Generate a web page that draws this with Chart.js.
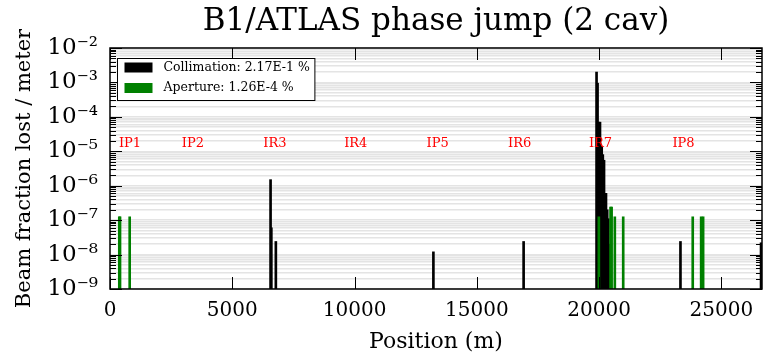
<!DOCTYPE html>
<html>
<head>
<meta charset="utf-8">
<script src="https://cdn.jsdelivr.net/npm/chart.js@4.4.1/dist/chart.umd.min.js"></script>
<style>
  html, body { margin: 0; padding: 0; background: #fff; }
  #wrap { width: 765px; height: 355px; }
</style>
</head>
<body>
<div id="wrap"><canvas id="chart"></canvas></div>
<script>
// loss positions (m) and values (fraction / m)
const collPos = [6565, 6597, 6781, 13223, 16912,
  19894, 19935, 19965, 20000, 20035, 20075, 20105, 20150, 20200, 20245, 20280, 20330, 20375, 20420,
  23325, 26620];
const collVal = [1.5e-6, 6e-8, 2.4e-8, 1.2e-8, 2.4e-8,
  2.0e-3, 9.5e-4, 7e-5, 7e-5, 7e-5, 1.4e-5, 1.3e-5, 8e-6, 5.5e-6, 6e-7, 6e-7, 2e-7, 1.1e-7, 2e-8,
  2.4e-8, 2.2e-8];
const apPos = [380, 410, 805, 19988, 20466, 20510, 20641, 20984, 23827, 24171, 24252];
const apVal = [1.25e-7, 1.25e-7, 1.25e-7, 1.25e-7, 2.4e-7, 2.4e-7, 1.25e-7, 1.25e-7, 1.25e-7, 1.25e-7, 1.25e-7];

const xTicks = [0, 5000, 10000, 15000, 20000, 25000];
const yExponents = [-9, -8, -7, -6, -5, -4, -3, -2];
const irNames = ['IP1', 'IP2', 'IR3', 'IR4', 'IP5', 'IR6', 'IR7', 'IP8'];
const irPos = [817, 3391, 6740, 10049, 13399, 16748, 20057, 23448];
const irLabelY = 1.7e-5;

const SERIF = '"DejaVu Serif", serif';
const SUP = { '-': '\u207B', '0': '\u2070', '1': '\u00B9', '2': '\u00B2', '3': '\u00B3', '4': '\u2074',
  '5': '\u2075', '6': '\u2076', '7': '\u2077', '8': '\u2078', '9': '\u2079' };

// all decade + minor gridline values
const yGrid = [];
yExponents.forEach((e, i) => {
  if (i === yExponents.length - 1) { yGrid.push(Math.pow(10, e)); return; }
  for (let m = 1; m <= 9; m++) yGrid.push(m * Math.pow(10, e));
});
const isDecade = v => Math.abs(Math.log10(v) - Math.round(Math.log10(v))) < 1e-6;

const toXY = (xs, ys) => xs.map((x, i) => ({ x: x, y: ys[i] }));

const framePlugin = {
  id: 'frame',
  afterDatasetsDraw(chart) {
    const { ctx, chartArea: a, scales: { x, y } } = chart;
    ctx.save();
    ctx.strokeStyle = '#000';
    ctx.lineWidth = 1;
    const line = (x1, y1, x2, y2) => { ctx.beginPath(); ctx.moveTo(x1, y1); ctx.lineTo(x2, y2); ctx.stroke(); };

    // inside ticks
    yGrid.forEach(v => {
      const py = Math.round(y.getPixelForValue(v)) + 0.5;
      const len = isDecade(v) ? 12 : 6;
      line(a.left, py, a.left + len, py);
      line(a.right, py, a.right - len, py);
    });
    xTicks.forEach(v => {
      const px = Math.round(x.getPixelForValue(v)) + 0.5;
      line(px, a.bottom, px, a.bottom - 12);
      line(px, a.top, px, a.top + 12);
    });

    // IR labels
    ctx.fillStyle = '#ff0000';
    ctx.font = '13px ' + SERIF;
    ctx.textAlign = 'center';
    ctx.textBaseline = 'middle';
    irNames.forEach((n, i) => ctx.fillText(n, x.getPixelForValue(irPos[i]), y.getPixelForValue(irLabelY)));

    // frame
    ctx.lineWidth = 1.5;
    ctx.strokeRect(a.left, a.top, a.right - a.left, a.bottom - a.top);

    // legend box
    const ds = chart.data.datasets;
    ctx.font = '12.5px ' + SERIF;
    const textW = Math.max(...ds.map(d => ctx.measureText(d.label).width));
    const bx = a.left + 7.5, by = a.top + 10.5;
    const bw = 47 + textW + 4, bh = 42;
    ctx.fillStyle = '#fff';
    ctx.fillRect(bx, by, bw, bh);
    ctx.lineWidth = 1;
    ctx.strokeRect(bx, by, bw, bh);
    ds.forEach((d, i) => {
      const ry = by + 4 + i * 20.5;
      ctx.fillStyle = d.backgroundColor;
      ctx.fillRect(bx + 7, ry, 28, 10);
      ctx.fillStyle = '#000';
      ctx.textAlign = 'left';
      ctx.textBaseline = 'middle';
      ctx.fillText(d.label, bx + 46, ry + 5);
    });
    ctx.restore();
  }
};

new Chart(document.getElementById('chart'), {
  type: 'bar',
  data: {
    datasets: [
      { label: 'Collimation: 2.17E-1 %', data: toXY(collPos, collVal), backgroundColor: '#000000',
        barThickness: 2, order: 2 },
      { label: 'Aperture: 1.26E-4 %', data: toXY(apPos, apVal), backgroundColor: '#008000',
        barThickness: 2, order: 1 }
    ]
  },
  options: {
    responsive: true,
    maintainAspectRatio: false,
    animation: false,
    layout: { padding: { left: 0, right: 3, top: 0, bottom: 0 } },
    datasets: { bar: { grouped: false } },
    plugins: {
      legend: { display: false },
      tooltip: { enabled: false },
      title: {
        display: true,
        fullSize: false,
        text: 'B1/ATLAS phase jump (2 cav)',
        color: '#000',
        font: { family: SERIF, size: 31, weight: 'normal' },
        padding: { top: 3, bottom: 7.8 }
      }
    },
    scales: {
      x: {
        type: 'linear',
        min: 0,
        max: 26659,
        offset: false,
        grid: { display: false, drawTicks: false, offset: false },
        border: { display: false },
        afterBuildTicks: s => { s.ticks = xTicks.map(v => ({ value: v })); },
        afterFit: s => { s.height = 66; },
        ticks: {
          color: '#000',
          font: { family: SERIF, size: 20 },
          padding: 10,
          maxRotation: 0,
          autoSkip: false,
          callback: v => String(v)
        },
        title: {
          display: true,
          text: 'Position (m)',
          color: '#000',
          font: { family: SERIF, size: 22 },
          padding: { top: 0, bottom: 0 }
        }
      },
      y: {
        type: 'logarithmic',
        min: 1e-9,
        max: 1e-2,
        grid: { color: '#e4e4e4', lineWidth: 1.5, drawTicks: false },
        border: { display: false },
        afterBuildTicks: s => { s.ticks = yGrid.map(v => ({ value: v })); },
        afterFit: s => { s.width = 110; },
        ticks: {
          color: '#000',
          font: { family: SERIF, size: 23 },
          padding: 12,
          autoSkip: false,
          callback: v => {
            if (!isDecade(v)) return '';
            const e = String(Math.round(Math.log10(v)));
            return '10' + e.split('').map(c => SUP[c]).join('');
          }
        },
        title: {
          display: true,
          text: 'Beam fraction lost / meter',
          color: '#000',
          font: { family: SERIF, size: 21 },
          padding: { top: 12, bottom: 0 }
        }
      }
    }
  },
  plugins: [framePlugin]
});
</script>
</body>
</html>
